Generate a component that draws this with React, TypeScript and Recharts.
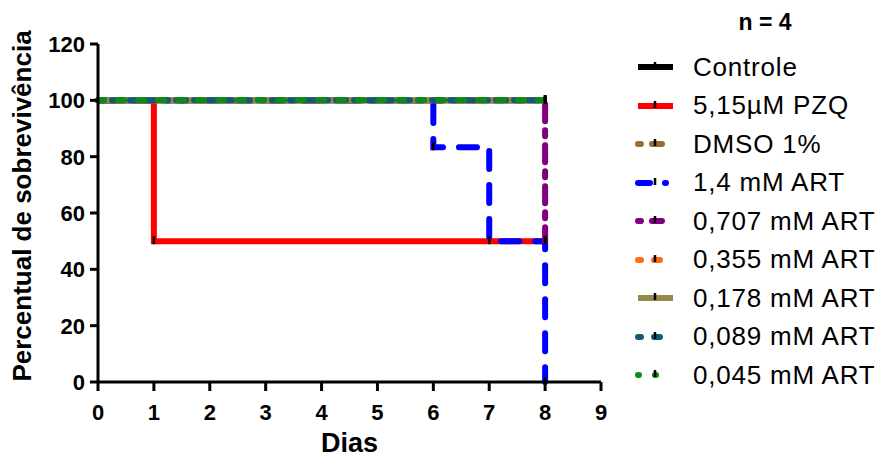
import { LineChart, Line, XAxis, YAxis } from "recharts"

// Kaplan-Meier steps: each point is (day, % survival)
const controle = [{ dia: 0, pct: 100 }, { dia: 8, pct: 100 }]
const pzq = [{ dia: 0, pct: 100 }, { dia: 1, pct: 50 }, { dia: 8, pct: 50 }]
const dmso = [{ dia: 0, pct: 100 }, { dia: 8, pct: 100 }]
const art14 = [{ dia: 0, pct: 100 }, { dia: 6, pct: 83.3 }, { dia: 7, pct: 50 }, { dia: 8, pct: 0 }]
const art0707 = [{ dia: 0, pct: 100 }, { dia: 8, pct: 50 }]
const art0355 = [{ dia: 0, pct: 100 }, { dia: 8, pct: 100 }]
const art0178 = [{ dia: 0, pct: 100 }, { dia: 8, pct: 100 }]
const art0089 = [{ dia: 0, pct: 100 }, { dia: 8, pct: 100 }]
const art0045 = [{ dia: 0, pct: 100 }, { dia: 8, pct: 100 }]

const xTicks = [0, 1, 2, 3, 4, 5, 6, 7, 8, 9]
const yTicks = [0, 20, 40, 60, 80, 100, 120]

const series = [
  { name: "Controle", data: controle, color: "#000000", dash: undefined, legendDash: undefined },
  { name: "5,15µM PZQ", data: pzq, color: "#ff0000", dash: undefined, legendDash: undefined },
  { name: "DMSO 1%", data: dmso, color: "#9c6b2e", dash: "4 9 12 9", legendDash: "3 11 10 40" },
  { name: "1,4 mM ART", data: art14, color: "#0000ff", dash: "18 16", legendDash: "12 15 1 40" },
  { name: "0,707 mM ART", data: art0707, color: "#800080", dash: "17 9 6 9", legendDash: "3 11 10 40" },
  { name: "0,355 mM ART", data: art0355, color: "#ff6a13", dash: "4 9 8 9", legendDash: "3 13 6 40" },
  { name: "0,178 mM ART", data: art0178, color: "#958b48", dash: undefined, legendDash: undefined },
  { name: "0,089 mM ART", data: art0089, color: "#125a72", dash: "6 8 10 8", legendDash: "3 13 6 40" },
  { name: "0,045 mM ART", data: art0045, color: "#0d8a17", dash: "6 14", legendDash: "1 16 1 40" },
]

const FONT = "'Liberation Sans', Arial, sans-serif"

// little black marks GraphPad draws at each step
function StepTick(props: any) {
  const { cx, cy, index } = props
  if (index === 0 || cx == null) return <g key={`t-${index}`} />
  return (
    <line
      key={`t-${index}`}
      x1={cx}
      x2={cx}
      y1={cy - 5}
      y2={cy + 3}
      stroke="#000"
      strokeWidth={2.5}
    />
  )
}

function XTick({ x, y, payload }: any) {
  return (
    <text x={x} y={y + 20} textAnchor="middle" fontFamily={FONT} fontWeight="bold" fontSize={22} fill="#000">
      {payload.value}
    </text>
  )
}

function YTick({ x, y, payload }: any) {
  return (
    <text x={x} y={y + 8} textAnchor="end" fontFamily={FONT} fontWeight="bold" fontSize={22} fill="#000">
      {payload.value}
    </text>
  )
}

function XTitle({ viewBox }: any) {
  const cx = viewBox ? viewBox.x + viewBox.width / 2 : 350
  return (
    <text x={cx} y={452} textAnchor="middle" fontFamily={FONT} fontWeight="bold" fontSize={27} fill="#000">
      Dias
    </text>
  )
}

function YTitle({ viewBox }: any) {
  const cy = viewBox ? viewBox.y + viewBox.height / 2 - 7 : 206
  return (
    <text
      x={0}
      y={0}
      transform={`translate(31, ${cy}) rotate(-90)`}
      textAnchor="middle"
      fontFamily={FONT}
      fontWeight="bold"
      fontSize={26}
      fill="#000"
    >
      Percentual de sobrevivência
    </text>
  )
}

function SideLegend() {
  return (
    <div style={{ position: "absolute", left: 0, top: 0, width: 879, height: 458, pointerEvents: "none" }}>
      <div
        style={{
          position: "absolute",
          left: 715,
          top: 5,
          width: 100,
          textAlign: "center",
          fontFamily: FONT,
          fontWeight: "bold",
          fontSize: 23,
          lineHeight: "34px",
        }}
      >
        n = 4
      </div>
      {series.map((s, i) => {
        const cy = 67 + i * 38.5
        const solid = !s.legendDash
        return (
          <div key={s.name} style={{ position: "absolute", left: 630, top: cy - 17, height: 34, display: "flex", alignItems: "center" }}>
            <svg width={50} height={34} style={{ display: "block" }}>
              <line
                x1={8}
                x2={43}
                y1={17}
                y2={17}
                stroke={s.color}
                strokeWidth={6}
                strokeLinecap={solid ? "butt" : "round"}
                strokeDasharray={s.legendDash}
              />
              <line x1={25} x2={25} y1={12} y2={19} stroke="#000" strokeWidth={2.5} />
            </svg>
            <span
              style={{
                marginLeft: 13,
                fontFamily: FONT,
                fontSize: 26,
                letterSpacing: 0.8,
                color: "#000",
                whiteSpace: "nowrap",
              }}
            >
              {s.name}
            </span>
          </div>
        )
      })}
    </div>
  )
}

export default function App() {
  return (
    <div style={{ position: "absolute", left: 0, top: 0, width: 879, height: 458, background: "#fff" }}>
      <LineChart width={879} height={458} margin={{ top: 44, right: 278, bottom: 0, left: 0 }}>
        <XAxis
          dataKey="dia"
          type="number"
          domain={[0, 9]}
          ticks={xTicks}
          interval={0}
          allowDuplicatedCategory={false}
          height={76}
          tick={<XTick />}
          tickSize={9}
          tickMargin={9}
          tickLine={{ stroke: "#000", strokeWidth: 3 }}
          axisLine={{ stroke: "#000", strokeWidth: 3 }}
          label={{ content: <XTitle /> }}
        />
        <YAxis
          dataKey="pct"
          type="number"
          domain={[0, 120]}
          ticks={yTicks}
          interval={0}
          width={98}
          tick={<YTick />}
          tickSize={8}
          tickMargin={5}
          tickLine={{ stroke: "#000", strokeWidth: 3 }}
          axisLine={{ stroke: "#000", strokeWidth: 3 }}
          label={{ content: <YTitle /> }}
        />
        {series.map((s) => (
          <Line
            key={s.name}
            data={s.data}
            dataKey="pct"
            name={s.name}
            type="stepAfter"
            stroke={s.color}
            strokeWidth={6}
            strokeDasharray={s.dash}
            strokeLinecap={s.dash ? "round" : "butt"}
            dot={<StepTick />}
            activeDot={false}
            isAnimationActive={false}
          />
        ))}
      </LineChart>
      <SideLegend />
    </div>
  )
}
